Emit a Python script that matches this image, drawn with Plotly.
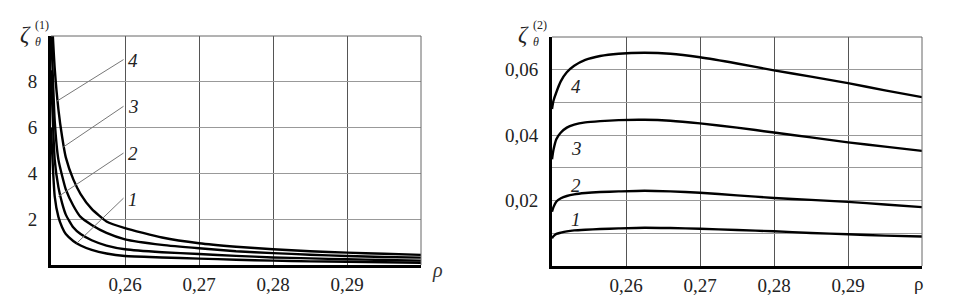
import plotly.graph_objects as go

# ---------- data: left panel  zeta_theta^(1)(rho) ----------
rho_left = [0.25, 0.2505, 0.251, 0.2515, 0.252, 0.253, 0.254, 0.2555, 0.2575,
            0.26, 0.265, 0.27, 0.275, 0.28, 0.285, 0.29, 0.295, 0.30]
z1_curve4 = [11.5, 8.6, 6.8, 5.6, 4.7, 3.75, 3.1, 2.45, 1.9,
             1.61, 1.2, 0.95, 0.8, 0.69, 0.6, 0.54, 0.49, 0.44]
z1_curve3 = [10.5, 6.3, 4.6, 3.9, 3.3, 2.6, 2.1, 1.75, 1.4,
             1.12, 0.88, 0.73, 0.6, 0.52, 0.45, 0.39, 0.35, 0.32]
z1_curve2 = [8.5, 4.6, 3.4, 2.7, 2.2, 1.65, 1.35, 1.08, 0.85,
             0.69, 0.56, 0.48, 0.4, 0.33, 0.29, 0.25, 0.22, 0.19]
z1_curve1 = [6.0, 3.0, 2.1, 1.65, 1.35, 1.05, 0.85, 0.66, 0.5,
             0.39, 0.33, 0.28, 0.23, 0.19, 0.16, 0.14, 0.12, 0.10]

# ---------- data: right panel  zeta_theta^(2)(rho) ----------
rho_right = [0.25, 0.2502, 0.2506, 0.2512, 0.252, 0.253, 0.2545, 0.2565, 0.259,
             0.2625, 0.266, 0.27, 0.275, 0.28, 0.285, 0.29, 0.295, 0.30]
z2_curve4 = [0.0480, 0.0505, 0.0532, 0.0565, 0.0592, 0.0612, 0.0630, 0.0642, 0.0649,
             0.0652, 0.0649, 0.0638, 0.0619, 0.0598, 0.0579, 0.0559, 0.0537, 0.0516]
z2_curve3 = [0.0326, 0.0355, 0.0388, 0.0408, 0.0423, 0.0432, 0.0439, 0.0443, 0.0446,
             0.0447, 0.0444, 0.0436, 0.0423, 0.0408, 0.0393, 0.0378, 0.0365, 0.0352]
z2_curve2 = [0.0166, 0.0180, 0.0197, 0.0207, 0.0214, 0.0219, 0.0223, 0.0226, 0.0228,
             0.0230, 0.0228, 0.0224, 0.0216, 0.0208, 0.0202, 0.0196, 0.0188, 0.0180]
z2_curve1 = [0.0085, 0.0091, 0.0098, 0.0102, 0.0106, 0.0109, 0.0111, 0.0113, 0.0115,
             0.0117, 0.0116, 0.0114, 0.0110, 0.0106, 0.0101, 0.0097, 0.0093, 0.0090]

curve_names = ["1", "2", "3", "4"]

x_tickvals = [0.26, 0.27, 0.28, 0.29]
x_ticktext = ["0,26", "0,27", "0,28", "0,29"]
yl_tickvals = [2, 4, 6, 8]
yl_ticktext = ["2", "4", "6", "8"]
yr_tickvals = [0.01, 0.02, 0.03, 0.04, 0.05, 0.06]
yr_ticktext = ["", "0,02", "", "0,04", "", "0,06"]

# label anchors (data coords)
left_label_y = [2.85, 4.85, 6.9, 8.95]
left_leader_start = [(0.25347, 0.95), (0.25099, 2.99), (0.25166, 5.15), (0.25077, 7.15)]
left_leader_end_y = [2.92, 4.89, 6.93, 8.97]
right_label_y = [0.0141, 0.0245, 0.0360, 0.0548]

FONT = "Liberation Serif, Times New Roman, serif"
TXT = "#222"
fig = go.Figure()

for ys in [z1_curve1, z1_curve2, z1_curve3, z1_curve4]:
    fig.add_trace(go.Scatter(x=rho_left, y=ys, mode="lines",
                             line=dict(color="black", width=2.4, shape="spline", smoothing=0.5),
                             xaxis="x", yaxis="y", showlegend=False, hoverinfo="skip"))
for ys in [z2_curve1, z2_curve2, z2_curve3, z2_curve4]:
    fig.add_trace(go.Scatter(x=rho_right, y=ys, mode="lines",
                             line=dict(color="black", width=2.4, shape="spline", smoothing=0.6),
                             xaxis="x2", yaxis="y2", showlegend=False, hoverinfo="skip"))

xaxis_common = dict(range=[0.25, 0.30], tickvals=x_tickvals, ticktext=x_ticktext,
                    showgrid=True, gridcolor="#555", gridwidth=1,
                    showline=True, linecolor="black", linewidth=3, ticks="",
                    zeroline=False, automargin=False,
                    tickfont=dict(family=FONT, size=19, color=TXT),
                    ticklabelstandoff=0)
yaxis_common = dict(showgrid=True, gridcolor="#999", gridwidth=1,
                    showline=True, linecolor="black", linewidth=3, ticks="",
                    zeroline=False, automargin=False,
                    tickfont=dict(family=FONT, size=19, color=TXT),
                    ticklabelstandoff=7)

fig.update_layout(
    width=977, height=296,
    margin=dict(l=0, r=0, t=0, b=0, autoexpand=False),
    paper_bgcolor="white", plot_bgcolor="white",
    xaxis=dict(domain=[51 / 977, 421 / 977], anchor="y", **xaxis_common),
    yaxis=dict(domain=[(296 - 265) / 296, (296 - 36) / 296], anchor="x", range=[0, 10],
               tickvals=yl_tickvals, ticktext=yl_ticktext, **yaxis_common),
    xaxis2=dict(domain=[552 / 977, 922 / 977], anchor="y2", **xaxis_common),
    yaxis2=dict(domain=[(296 - 266) / 296, (296 - 37) / 296], anchor="x2", range=[0, 0.07],
                tickvals=yr_tickvals, ticktext=yr_ticktext, **yaxis_common),
)

# top/right frame lines (thin gray, like grid)
for xr, yr in [("x", "y"), ("x2", "y2")]:
    fig.add_shape(type="line", xref=f"{xr} domain", yref=f"{yr} domain", x0=0, x1=1, y0=1, y1=1,
                  line=dict(color="#666", width=1))
    fig.add_shape(type="line", xref=f"{xr} domain", yref=f"{yr} domain", x0=1, x1=1, y0=0, y1=1,
                  line=dict(color="#666", width=1))

# left panel leader lines and labels
for name, (sx, sy), ey, ly in zip(curve_names, left_leader_start, left_leader_end_y, left_label_y):
    fig.add_shape(type="line", xref="x", yref="y", x0=sx, y0=sy, x1=0.2598, y1=ey,
                  line=dict(color="#777", width=1))
    fig.add_annotation(x=0.2601, y=ly, xref="x", yref="y", text=f"<i>{name}</i>", showarrow=False,
                       xanchor="left", yanchor="middle", font=dict(family=FONT, size=19, color=TXT))

# right panel labels
for name, ly in zip(curve_names, right_label_y):
    fig.add_annotation(x=0.2533, y=ly, xref="x2", yref="y2", text=f"<i>{name}</i>", showarrow=False,
                       xanchor="center", yanchor="middle", font=dict(family=FONT, size=19, color=TXT))

# axis titles  zeta_theta^(k)
for base_x, sup in [(19, "(1)"), (517, "(2)")]:
    fig.add_annotation(x=base_x / 977, y=1 - 35 / 296, xref="paper", yref="paper", text="<i>ζ</i>",
                       showarrow=False, font=dict(family=FONT, size=23, color=TXT),
                       xanchor="left", yanchor="middle", borderpad=0)
    fig.add_annotation(x=(base_x + 15) / 977, y=1 - 25 / 296, xref="paper", yref="paper", text=sup,
                       showarrow=False, font=dict(family=FONT, size=12, color=TXT),
                       xanchor="left", yanchor="middle", borderpad=0)
    fig.add_annotation(x=(base_x + 15) / 977, y=1 - 42 / 296, xref="paper", yref="paper", text="<i>θ</i>",
                       showarrow=False, font=dict(family=FONT, size=12, color=TXT),
                       xanchor="left", yanchor="middle", borderpad=0)

fig.add_annotation(x=437 / 977, y=1 - 270 / 296, xref="paper", yref="paper", text="<i>ρ</i>",
                   showarrow=False, font=dict(family=FONT, size=20, color="#333"),
                   xanchor="center", yanchor="middle")
fig.add_annotation(x=918 / 977, y=1 - 283 / 296, xref="paper", yref="paper", text="ρ",
                   showarrow=False, font=dict(family=FONT, size=19, color=TXT),
                   xanchor="center", yanchor="middle")

fig.write_html("out.html", config={"displayModeBar": False},
               post_script="document.body.style.margin='0';document.body.style.overflow='hidden';")
